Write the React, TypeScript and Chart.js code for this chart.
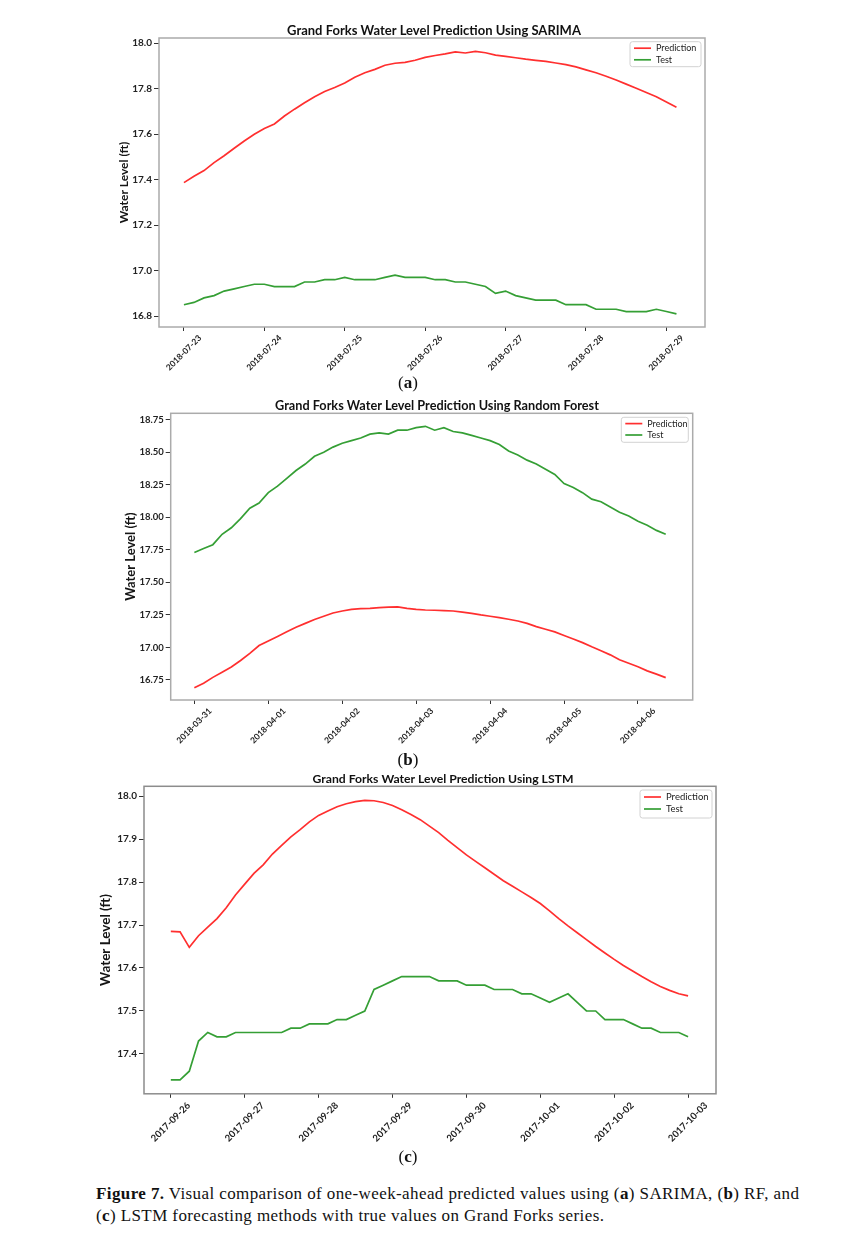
import React, { useEffect, useRef } from "react";
import { Chart, registerables } from "chart.js";

Chart.register(...registerables);

// ---------------- data ----------------
const STEP_DAYS = 0.125; // one sample every 3 hours
const SERIES_LABELS = ["Prediction", "Test"];

// (a) SARIMA
const DATES_A = ["2018-07-23", "2018-07-24", "2018-07-25", "2018-07-26", "2018-07-27", "2018-07-28", "2018-07-29"];
const YTICKS_A = [16.8, 17.0, 17.2, 17.4, 17.6, 17.8, 18.0];
const PRED_A = [
  17.387, 17.415, 17.44, 17.475, 17.505, 17.538, 17.57, 17.6, 17.625, 17.645,
  17.68, 17.71, 17.738, 17.765, 17.788, 17.805, 17.825, 17.85, 17.87, 17.885,
  17.903, 17.912, 17.916, 17.925, 17.938, 17.946, 17.953, 17.962, 17.957, 17.964,
  17.958, 17.948, 17.942, 17.936, 17.93, 17.925, 17.92, 17.913, 17.906, 17.896,
  17.883, 17.87, 17.855, 17.838, 17.82, 17.802, 17.783, 17.765, 17.742, 17.718,
];
const TEST_A = [
  16.85, 16.86, 16.88, 16.89, 16.91, 16.92, 16.93, 16.94, 16.94, 16.93,
  16.93, 16.93, 16.95, 16.95, 16.96, 16.96, 16.97, 16.96, 16.96, 16.96,
  16.97, 16.98, 16.97, 16.97, 16.97, 16.96, 16.96, 16.95, 16.95, 16.94,
  16.93, 16.9, 16.91, 16.89, 16.88, 16.87, 16.87, 16.87, 16.85, 16.85,
  16.85, 16.83, 16.83, 16.83, 16.82, 16.82, 16.82, 16.83, 16.82, 16.81,
];

// (b) Random Forest
const DATES_B = ["2018-03-31", "2018-04-01", "2018-04-02", "2018-04-03", "2018-04-04", "2018-04-05", "2018-04-06"];
const YTICKS_B = [16.75, 17.0, 17.25, 17.5, 17.75, 18.0, 18.25, 18.5, 18.75];
const PRED_B = [
  16.69, 16.725, 16.77, 16.81, 16.85, 16.9, 16.955, 17.015, 17.05, 17.085,
  17.12, 17.155, 17.185, 17.215, 17.24, 17.265, 17.28, 17.293, 17.298, 17.3,
  17.306, 17.31, 17.312, 17.3, 17.292, 17.288, 17.286, 17.283, 17.28, 17.272,
  17.262, 17.25, 17.24, 17.229, 17.217, 17.203, 17.185, 17.16, 17.14, 17.12,
  17.092, 17.065, 17.037, 17.005, 16.975, 16.943, 16.905, 16.878, 16.852, 16.82,
  16.795, 16.768,
];
const TEST_B = [
  17.73, 17.76, 17.79, 17.87, 17.92, 17.99, 18.07, 18.11, 18.19, 18.24,
  18.3, 18.36, 18.41, 18.47, 18.5, 18.54, 18.57, 18.59, 18.61, 18.64,
  18.65, 18.64, 18.67, 18.67, 18.69, 18.7, 18.67, 18.69, 18.66, 18.65,
  18.63, 18.61, 18.59, 18.56, 18.51, 18.48, 18.44, 18.41, 18.37, 18.33,
  18.26, 18.23, 18.19, 18.14, 18.12, 18.08, 18.04, 18.01, 17.97, 17.94,
  17.9, 17.87,
];

// (c) LSTM
const DATES_C = ["2017-09-26", "2017-09-27", "2017-09-28", "2017-09-29", "2017-09-30", "2017-10-01", "2017-10-02", "2017-10-03"];
const YTICKS_C = [17.4, 17.5, 17.6, 17.7, 17.8, 17.9, 18.0];
const PRED_C = [
  17.685, 17.684, 17.648, 17.675, 17.695, 17.715, 17.74, 17.77, 17.795, 17.82,
  17.84, 17.865, 17.885, 17.905, 17.922, 17.94, 17.955, 17.965, 17.975, 17.982,
  17.987, 17.99, 17.989, 17.985, 17.978, 17.968, 17.957, 17.945, 17.93, 17.915,
  17.897, 17.88, 17.863, 17.848, 17.833, 17.818, 17.803, 17.79, 17.777, 17.764,
  17.75, 17.733, 17.715, 17.698, 17.682, 17.666, 17.65, 17.635, 17.62, 17.606,
  17.593, 17.58, 17.568, 17.557, 17.548, 17.54, 17.535,
];
const TEST_C = [
  17.34, 17.34, 17.36, 17.43, 17.45, 17.44, 17.44, 17.45, 17.45, 17.45,
  17.45, 17.45, 17.45, 17.46, 17.46, 17.47, 17.47, 17.47, 17.48, 17.48,
  17.49, 17.5, 17.55, 17.56, 17.57, 17.58, 17.58, 17.58, 17.58, 17.57,
  17.57, 17.57, 17.56, 17.56, 17.56, 17.55, 17.55, 17.55, 17.54, 17.54,
  17.53, 17.52, 17.53, 17.54, 17.52, 17.5, 17.5, 17.48, 17.48, 17.48,
  17.47, 17.46, 17.46, 17.45, 17.45, 17.45, 17.44,
];

// ---------------- styling / layout ----------------
const PAGE_W = 841;
const FONT = "Lato, 'Open Sans', sans-serif";
const RED = "#ff2f2f";
const GREEN = "#359f35";

type Spec = {
  top: number;
  height: number;
  plot: { left: number; right: number; top: number; bottom: number };
  yAxisW: number;
  xAxisH: number;
  xMin: number;
  xMax: number;
  yMin: number;
  yMax: number;
  dates: string[];
  yTicks: number[];
  yDecimals: number;
  pred: number[];
  test: number[];
  title: string;
  titleX: number;
  titleY: number;
  titleSize: number;
  yTitleSize: number;
  yTickSize: number;
  xTickSize: number;
  xLabelOffset: number;
  legend: { right: number; top: number; w: number; h: number; font: number; row0: number; gap: number };
  frameColor: string;
};

const SPEC_A: Spec = {
  top: 0,
  height: 385,
  plot: { left: 159, right: 705, top: 38, bottom: 327 },
  yAxisW: 41.8,
  xAxisH: 55,
  xMin: -0.31,
  xMax: 6.48,
  yMin: 16.752,
  yMax: 18.023,
  dates: DATES_A,
  yTicks: YTICKS_A,
  yDecimals: 1,
  pred: PRED_A,
  test: TEST_A,
  title: "Grand Forks Water Level Prediction Using SARIMA",
  titleX: 434,
  titleY: 31,
  titleSize: 13,
  yTitleSize: 12,
  yTickSize: 10,
  xTickSize: 8.5,
  xLabelOffset: 16,
  legend: { right: 701, top: 41.7, w: 71, h: 25, font: 9, row0: 6.5, gap: 11.6 },
  frameColor: "#ababab",
};

const SPEC_B: Spec = {
  top: 392,
  height: 370,
  plot: { left: 170.7, right: 692.7, top: 413.3, bottom: 700 },
  yAxisW: 47.5,
  xAxisH: 55,
  xMin: -0.32,
  xMax: 6.74,
  yMin: 16.596,
  yMax: 18.8,
  dates: DATES_B,
  yTicks: YTICKS_B,
  yDecimals: 2,
  pred: PRED_B,
  test: TEST_B,
  title: "Grand Forks Water Level Prediction Using Random Forest",
  titleX: 437,
  titleY: 406,
  titleSize: 12.7,
  yTitleSize: 13,
  yTickSize: 9.5,
  xTickSize: 8.5,
  xLabelOffset: 16,
  legend: { right: 688.3, top: 417.3, w: 67, h: 25, font: 9, row0: 6.3, gap: 11.4 },
  frameColor: "#ababab",
};

const SPEC_C: Spec = {
  top: 765,
  height: 385,
  plot: { left: 144, right: 716, top: 786.3, bottom: 1093.8 },
  yAxisW: 46.1,
  xAxisH: 55,
  xMin: -0.363,
  xMax: 7.378,
  yMin: 17.3074,
  yMax: 18.0226,
  dates: DATES_C,
  yTicks: YTICKS_C,
  yDecimals: 1,
  pred: PRED_C,
  test: TEST_C,
  title: "Grand Forks Water Level Prediction Using LSTM",
  titleX: 443,
  titleY: 779,
  titleSize: 12.2,
  yTitleSize: 13.5,
  yTickSize: 10,
  xTickSize: 9.5,
  xLabelOffset: 18,
  legend: { right: 712, top: 790, w: 72, h: 28, font: 9.5, row0: 7, gap: 12 },
  frameColor: "#8c8c8c",
};

const toPoints = (vals: number[]) => vals.map((v, i) => ({ x: i * STEP_DAYS, y: v }));

function makeDecor(s: Spec) {
  return {
    id: "decor",
    afterDraw(chart: any) {
      const { ctx, chartArea } = chart;
      ctx.save();
      // axes frame
      ctx.strokeStyle = s.frameColor;
      ctx.lineWidth = 1.5;
      ctx.strokeRect(chartArea.left, chartArea.top, chartArea.right - chartArea.left, chartArea.bottom - chartArea.top);
      // title
      ctx.fillStyle = "#111";
      ctx.font = `bold ${s.titleSize}px ${FONT}`;
      ctx.textAlign = "center";
      ctx.textBaseline = "middle";
      ctx.fillText(s.title, s.titleX, s.titleY - s.top);
      // legend
      const lg = s.legend;
      const bx = lg.right - lg.w;
      const by = lg.top - s.top;
      ctx.beginPath();
      const r = 2.5;
      ctx.moveTo(bx + r, by);
      ctx.lineTo(bx + lg.w - r, by);
      ctx.quadraticCurveTo(bx + lg.w, by, bx + lg.w, by + r);
      ctx.lineTo(bx + lg.w, by + lg.h - r);
      ctx.quadraticCurveTo(bx + lg.w, by + lg.h, bx + lg.w - r, by + lg.h);
      ctx.lineTo(bx + r, by + lg.h);
      ctx.quadraticCurveTo(bx, by + lg.h, bx, by + lg.h - r);
      ctx.lineTo(bx, by + r);
      ctx.quadraticCurveTo(bx, by, bx + r, by);
      ctx.closePath();
      ctx.fillStyle = "rgba(255,255,255,0.85)";
      ctx.fill();
      ctx.strokeStyle = "#d2d2d2";
      ctx.lineWidth = 1;
      ctx.stroke();
      chart.data.datasets.forEach((ds: any, k: number) => {
        const y = by + lg.row0 + k * lg.gap;
        ctx.strokeStyle = ds.borderColor;
        ctx.lineWidth = 1.7;
        ctx.beginPath();
        ctx.moveTo(bx + 4, y);
        ctx.lineTo(bx + 21, y);
        ctx.stroke();
        ctx.fillStyle = "#222";
        ctx.font = `${lg.font}px ${FONT}`;
        ctx.textAlign = "left";
        ctx.textBaseline = "middle";
        ctx.fillText(ds.label, bx + 26, y);
      });
      ctx.restore();
    },
  };
}

function buildConfig(s: Spec): any {
  const bold = (size: number) => ({ family: FONT, size, weight: "bold" as const });
  return {
    type: "line",
    data: {
      datasets: [
        { label: SERIES_LABELS[0], data: toPoints(s.pred), borderColor: RED, backgroundColor: RED, borderWidth: 1.7, pointRadius: 0, fill: false, tension: 0 },
        { label: SERIES_LABELS[1], data: toPoints(s.test), borderColor: GREEN, backgroundColor: GREEN, borderWidth: 1.7, pointRadius: 0, fill: false, tension: 0 },
      ],
    },
    options: {
      responsive: false,
      animation: false,
      devicePixelRatio: 1,
      events: [],
      layout: {
        padding: {
          left: s.plot.left - s.yAxisW,
          right: PAGE_W - s.plot.right,
          top: s.plot.top - s.top,
          bottom: s.height - (s.plot.bottom - s.top) - s.xAxisH,
        },
      },
      plugins: { legend: { display: false }, title: { display: false }, tooltip: { enabled: false } },
      scales: {
        x: {
          type: "linear",
          min: s.xMin,
          max: s.xMax,
          afterBuildTicks: (scale: any) => {
            scale.ticks = s.dates.map((_, i) => ({ value: i }));
          },
          afterFit: (scale: any) => {
            scale.height = s.xAxisH;
          },
          ticks: {
            autoSkip: false,
            minRotation: 45,
            maxRotation: 45,
            labelOffset: s.xLabelOffset,
            padding: 2,
            color: "#222",
            font: bold(s.xTickSize),
            callback: (_v: any, i: number) => s.dates[i],
          },
          grid: { drawOnChartArea: false, drawTicks: true, tickLength: 4, color: "#333" },
          border: { display: false },
        },
        y: {
          type: "linear",
          min: s.yMin,
          max: s.yMax,
          afterBuildTicks: (scale: any) => {
            scale.ticks = s.yTicks.map((v) => ({ value: v }));
          },
          afterFit: (scale: any) => {
            scale.width = s.yAxisW;
          },
          ticks: {
            padding: 2,
            color: "#222",
            font: bold(s.yTickSize),
            callback: (v: any) => Number(v).toFixed(s.yDecimals),
          },
          grid: { drawOnChartArea: false, drawTicks: true, tickLength: 5, color: "#333" },
          border: { display: false },
          title: {
            display: true,
            text: "Water Level (ft)",
            color: "#151515",
            font: bold(s.yTitleSize),
            padding: { top: 0, bottom: 0 },
          },
        },
      },
    },
    plugins: [makeDecor(s)],
  };
}

function Panel({ spec }: { spec: Spec }) {
  const ref = useRef<HTMLCanvasElement | null>(null);
  useEffect(() => {
    const canvas = ref.current;
    if (!canvas) return;
    const chart = new Chart(canvas, buildConfig(spec));
    return () => chart.destroy();
  }, [spec]);
  return (
    <canvas
      ref={ref}
      width={PAGE_W}
      height={spec.height}
      style={{ position: "absolute", left: 0, top: spec.top, width: PAGE_W, height: spec.height, zIndex: 1 }}
    />
  );
}

const SERIF = "'Liberation Serif', 'DejaVu Serif', serif";

function SubLabel({ letter, y }: { letter: string; y: number }) {
  return (
    <div
      style={{
        position: "absolute",
        left: 388,
        width: 40,
        top: y - 11,
        height: 22,
        lineHeight: "22px",
        textAlign: "center",
        fontFamily: SERIF,
        fontSize: 17,
        color: "#111",
        zIndex: 2,
      }}
    >
      (<b>{letter}</b>)
    </div>
  );
}

export default function App() {
  return (
    <div style={{ position: "absolute", left: 0, top: 0, width: PAGE_W, height: 1235, background: "#fff", overflow: "hidden" }}>
      <Panel spec={SPEC_A} />
      <Panel spec={SPEC_B} />
      <Panel spec={SPEC_C} />
      <SubLabel letter="a" y={383} />
      <SubLabel letter="b" y={760} />
      <SubLabel letter="c" y={1157} />
      <div
        style={{
          position: "absolute",
          left: 96,
          top: 1183,
          lineHeight: "22px",
          fontFamily: SERIF,
          fontSize: 17,
          letterSpacing: "0.4px",
          color: "#111",
          whiteSpace: "nowrap",
          zIndex: 2,
        }}
      >
        <b>Figure 7.</b> Visual comparison of one-week-ahead predicted values using (<b>a</b>) SARIMA, (<b>b</b>) RF, and
        <br />
        (<b>c</b>) LSTM forecasting methods with true values on Grand Forks series.
      </div>
    </div>
  );
}
